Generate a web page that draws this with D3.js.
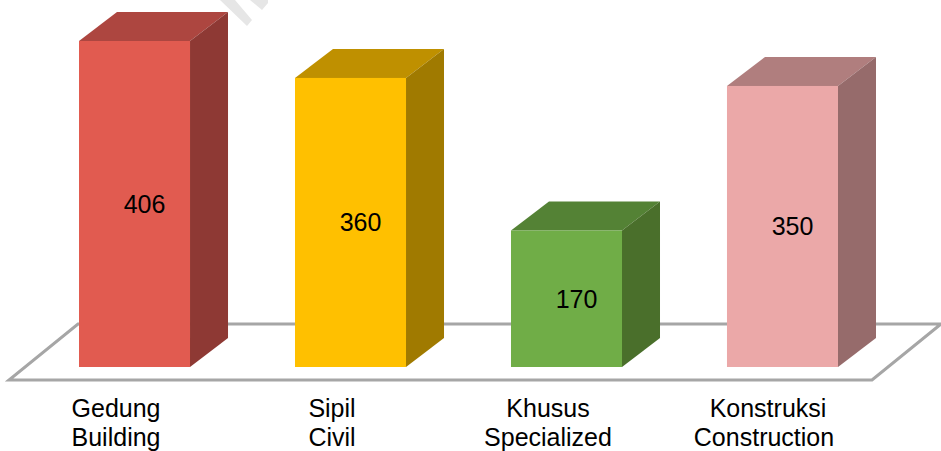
<!DOCTYPE html>
<html>
<head>
  <title>Bar chart</title>
  <script src="https://d3js.org/d3.v7.min.js"></script>
  <style>
    body { margin: 0; padding: 0; background: white; overflow: hidden; }
    svg { display: block; }
    text { font-family: "Liberation Sans", Arial, sans-serif; font-size: 25px; fill: #000; }
  </style>
</head>
<body>
  <svg id="canvas" width="941" height="451"></svg>

  <script>
    const categories = ["Gedung", "Sipil", "Khusus", "Konstruksi"];
    const subLabels = ["Building", "Civil", "Specialized", "Construction"];
    const values = [406, 360, 170, 350];
    const frontColors = ["#e15b50", "#ffc000", "#70ad47", "#eba8a8"];
    const sideColors = ["#8e3934", "#a07a00", "#4a6f2b", "#966b6b"];
    const topColors = ["#ad4640", "#bf9000", "#548235", "#b07e7e"];

    const svg = d3.select("#canvas");

    const x = d3.scaleBand().domain(categories).range([79, 838]).paddingInner(0.486);
    const y = d3.scaleLinear().domain([0, 406]).range([367, 41]);

    const depthX = 38, depthY = 29;
    const floorFront = 380, floorBack = 324;
    const line = d3.line();

    // watermark fragment cut off at the top of the image
    svg.append("g").attr("fill", "#e6e6e6")
      .selectAll("path")
      .data([
        [[220, 0], [235, 0], [252, 20], [247, 26]],
        [[250, 0], [268, 0], [268, 3], [262, 10]]
      ])
      .join("path")
      .attr("d", d => line(d) + "Z");

    // floor
    svg.append("path")
      .attr("d", line([[9, floorFront], [872, floorFront], [941, floorBack], [78, floorBack]]) + "Z")
      .attr("fill", "white")
      .attr("stroke", "#a6a6a6")
      .attr("stroke-width", 3)
      .attr("stroke-linejoin", "miter");

    const bars = svg.selectAll("g.bar")
      .data(categories)
      .join("g")
      .attr("class", "bar");

    const w = x.bandwidth();

    // top face
    bars.append("path")
      .attr("d", d => {
        const x0 = x(d), t = y(values[categories.indexOf(d)]);
        return line([[x0, t], [x0 + w, t], [x0 + w + depthX, t - depthY], [x0 + depthX, t - depthY]]) + "Z";
      })
      .attr("fill", (d, i) => topColors[i]);

    // side face
    bars.append("path")
      .attr("d", d => {
        const x1 = x(d) + w, t = y(values[categories.indexOf(d)]), b = y(0);
        return line([[x1, t], [x1 + depthX, t - depthY], [x1 + depthX, b - depthY], [x1, b]]) + "Z";
      })
      .attr("fill", (d, i) => sideColors[i]);

    // front face
    bars.append("rect")
      .attr("x", d => x(d))
      .attr("y", (d, i) => y(values[i]))
      .attr("width", w)
      .attr("height", (d, i) => y(0) - y(values[i]))
      .attr("fill", (d, i) => frontColors[i]);

    // value labels
    bars.append("text")
      .attr("x", d => x(d) + w / 2 + 10)
      .attr("y", (d, i) => (y(values[i]) + y(0)) / 2 + 9)
      .attr("text-anchor", "middle")
      .text((d, i) => values[i]);

    // category labels, two lines
    const labels = svg.selectAll("g.label")
      .data(categories)
      .join("g")
      .attr("class", "label")
      .attr("transform", d => `translate(${x(d) + w / 2 - 18.5},0)`);

    labels.append("text")
      .attr("x", d => d === "Konstruksi" ? 4 : 0) // this one sits a little right in the original
      .attr("y", 417)
      .attr("text-anchor", "middle")
      .text(d => d);

    labels.append("text")
      .attr("y", 446)
      .attr("text-anchor", "middle")
      .text((d, i) => subLabels[i]);
  </script>
</body>
</html>
